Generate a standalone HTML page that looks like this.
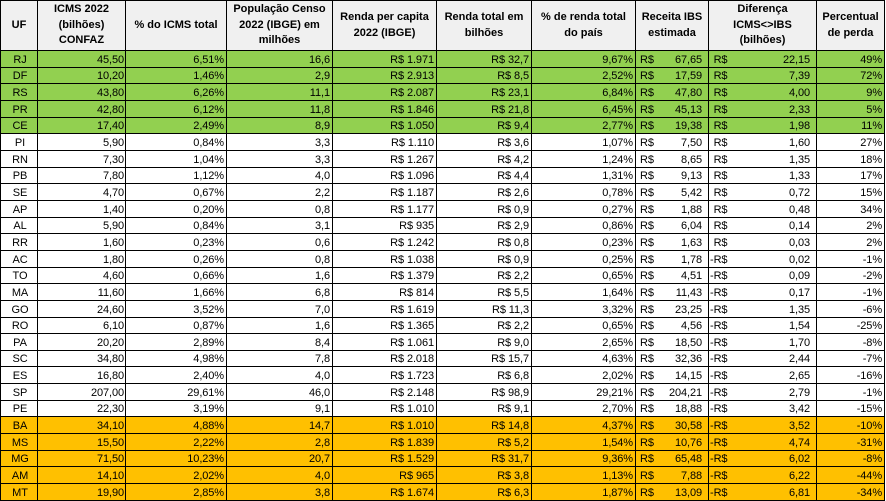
<!DOCTYPE html>
<html>
<head>
<meta charset="utf-8">
<style>
html,body{margin:0;padding:0;background:#fff;width:886px;height:501px;overflow:hidden;}
.t{position:absolute;left:0;top:0;display:grid;background:#000;padding:1px;gap:1px;
grid-template-columns:36px 87px 100px 105px 103px 94px 103px 72px 107px 67px;
grid-template-rows:49px repeat(27,15.667px);
font-family:"Liberation Sans",Arial,sans-serif;font-size:11px;color:#000;letter-spacing:-0.1px;}
.r{display:contents;}
.t div.r>span{background:#fff;display:flex;align-items:flex-end;justify-content:flex-end;line-height:13px;padding-right:2px;white-space:nowrap;overflow:hidden;}
.t div.r>span:first-child{justify-content:center;padding-right:0;padding-left:2px;}
.t div.r>span:nth-child(2){padding-right:1px;}
.t div.r>span:nth-child(8){justify-content:space-between;padding-left:4px;padding-right:6px;}
.t div.r>span:nth-child(9){justify-content:space-between;padding-left:1px;padding-right:6px;}
.t div.g>span{background:#92d050;}
.t div.o>span{background:#ffc000;}
.t div.h>span{background:#f0f0f0;font-weight:bold;justify-content:center;align-items:center;text-align:center;line-height:15.5px;padding:0;letter-spacing:0;}
.t div.h>span:first-child{padding:0;}
.t div.h>span:nth-child(n){padding:0;justify-content:center;}
.hd{visibility:hidden;}
</style>
</head>
<body>
<div class="t">
<div class="r h"><span>UF</span><span>ICMS 2022<br>(bilhões)<br>CONFAZ</span><span>% do ICMS total</span><span>População Censo<br>2022 (IBGE) em<br>milhões</span><span>Renda per capita<br>2022 (IBGE)</span><span>Renda total em<br>bilhões</span><span>% de renda total<br>do país</span><span>Receita IBS<br>estimada</span><span>Diferença<br>ICMS&lt;&gt;IBS<br>(bilhões)</span><span>Percentual<br>de perda</span></div>
<div class="r g"><span>RJ</span><span>45,50</span><span>6,51%</span><span>16,6</span><span>R$ 1.971</span><span>R$ 32,7</span><span>9,67%</span><span><b style="font-weight:normal">R$</b><b style="font-weight:normal">67,65</b></span><span><b style="font-weight:normal"><i class="hd">-</i>R$</b><b style="font-weight:normal">22,15</b></span><span>49%</span></div>
<div class="r g"><span>DF</span><span>10,20</span><span>1,46%</span><span>2,9</span><span>R$ 2.913</span><span>R$ 8,5</span><span>2,52%</span><span><b style="font-weight:normal">R$</b><b style="font-weight:normal">17,59</b></span><span><b style="font-weight:normal"><i class="hd">-</i>R$</b><b style="font-weight:normal">7,39</b></span><span>72%</span></div>
<div class="r g"><span>RS</span><span>43,80</span><span>6,26%</span><span>11,1</span><span>R$ 2.087</span><span>R$ 23,1</span><span>6,84%</span><span><b style="font-weight:normal">R$</b><b style="font-weight:normal">47,80</b></span><span><b style="font-weight:normal"><i class="hd">-</i>R$</b><b style="font-weight:normal">4,00</b></span><span>9%</span></div>
<div class="r g"><span>PR</span><span>42,80</span><span>6,12%</span><span>11,8</span><span>R$ 1.846</span><span>R$ 21,8</span><span>6,45%</span><span><b style="font-weight:normal">R$</b><b style="font-weight:normal">45,13</b></span><span><b style="font-weight:normal"><i class="hd">-</i>R$</b><b style="font-weight:normal">2,33</b></span><span>5%</span></div>
<div class="r g"><span>CE</span><span>17,40</span><span>2,49%</span><span>8,9</span><span>R$ 1.050</span><span>R$ 9,4</span><span>2,77%</span><span><b style="font-weight:normal">R$</b><b style="font-weight:normal">19,38</b></span><span><b style="font-weight:normal"><i class="hd">-</i>R$</b><b style="font-weight:normal">1,98</b></span><span>11%</span></div>
<div class="r"><span>PI</span><span>5,90</span><span>0,84%</span><span>3,3</span><span>R$ 1.110</span><span>R$ 3,6</span><span>1,07%</span><span><b style="font-weight:normal">R$</b><b style="font-weight:normal">7,50</b></span><span><b style="font-weight:normal"><i class="hd">-</i>R$</b><b style="font-weight:normal">1,60</b></span><span>27%</span></div>
<div class="r"><span>RN</span><span>7,30</span><span>1,04%</span><span>3,3</span><span>R$ 1.267</span><span>R$ 4,2</span><span>1,24%</span><span><b style="font-weight:normal">R$</b><b style="font-weight:normal">8,65</b></span><span><b style="font-weight:normal"><i class="hd">-</i>R$</b><b style="font-weight:normal">1,35</b></span><span>18%</span></div>
<div class="r"><span>PB</span><span>7,80</span><span>1,12%</span><span>4,0</span><span>R$ 1.096</span><span>R$ 4,4</span><span>1,31%</span><span><b style="font-weight:normal">R$</b><b style="font-weight:normal">9,13</b></span><span><b style="font-weight:normal"><i class="hd">-</i>R$</b><b style="font-weight:normal">1,33</b></span><span>17%</span></div>
<div class="r"><span>SE</span><span>4,70</span><span>0,67%</span><span>2,2</span><span>R$ 1.187</span><span>R$ 2,6</span><span>0,78%</span><span><b style="font-weight:normal">R$</b><b style="font-weight:normal">5,42</b></span><span><b style="font-weight:normal"><i class="hd">-</i>R$</b><b style="font-weight:normal">0,72</b></span><span>15%</span></div>
<div class="r"><span>AP</span><span>1,40</span><span>0,20%</span><span>0,8</span><span>R$ 1.177</span><span>R$ 0,9</span><span>0,27%</span><span><b style="font-weight:normal">R$</b><b style="font-weight:normal">1,88</b></span><span><b style="font-weight:normal"><i class="hd">-</i>R$</b><b style="font-weight:normal">0,48</b></span><span>34%</span></div>
<div class="r"><span>AL</span><span>5,90</span><span>0,84%</span><span>3,1</span><span>R$ 935</span><span>R$ 2,9</span><span>0,86%</span><span><b style="font-weight:normal">R$</b><b style="font-weight:normal">6,04</b></span><span><b style="font-weight:normal"><i class="hd">-</i>R$</b><b style="font-weight:normal">0,14</b></span><span>2%</span></div>
<div class="r"><span>RR</span><span>1,60</span><span>0,23%</span><span>0,6</span><span>R$ 1.242</span><span>R$ 0,8</span><span>0,23%</span><span><b style="font-weight:normal">R$</b><b style="font-weight:normal">1,63</b></span><span><b style="font-weight:normal"><i class="hd">-</i>R$</b><b style="font-weight:normal">0,03</b></span><span>2%</span></div>
<div class="r"><span>AC</span><span>1,80</span><span>0,26%</span><span>0,8</span><span>R$ 1.038</span><span>R$ 0,9</span><span>0,25%</span><span><b style="font-weight:normal">R$</b><b style="font-weight:normal">1,78</b></span><span><b style="font-weight:normal">-R$</b><b style="font-weight:normal">0,02</b></span><span>-1%</span></div>
<div class="r"><span>TO</span><span>4,60</span><span>0,66%</span><span>1,6</span><span>R$ 1.379</span><span>R$ 2,2</span><span>0,65%</span><span><b style="font-weight:normal">R$</b><b style="font-weight:normal">4,51</b></span><span><b style="font-weight:normal">-R$</b><b style="font-weight:normal">0,09</b></span><span>-2%</span></div>
<div class="r"><span>MA</span><span>11,60</span><span>1,66%</span><span>6,8</span><span>R$ 814</span><span>R$ 5,5</span><span>1,64%</span><span><b style="font-weight:normal">R$</b><b style="font-weight:normal">11,43</b></span><span><b style="font-weight:normal">-R$</b><b style="font-weight:normal">0,17</b></span><span>-1%</span></div>
<div class="r"><span>GO</span><span>24,60</span><span>3,52%</span><span>7,0</span><span>R$ 1.619</span><span>R$ 11,3</span><span>3,32%</span><span><b style="font-weight:normal">R$</b><b style="font-weight:normal">23,25</b></span><span><b style="font-weight:normal">-R$</b><b style="font-weight:normal">1,35</b></span><span>-6%</span></div>
<div class="r"><span>RO</span><span>6,10</span><span>0,87%</span><span>1,6</span><span>R$ 1.365</span><span>R$ 2,2</span><span>0,65%</span><span><b style="font-weight:normal">R$</b><b style="font-weight:normal">4,56</b></span><span><b style="font-weight:normal">-R$</b><b style="font-weight:normal">1,54</b></span><span>-25%</span></div>
<div class="r"><span>PA</span><span>20,20</span><span>2,89%</span><span>8,4</span><span>R$ 1.061</span><span>R$ 9,0</span><span>2,65%</span><span><b style="font-weight:normal">R$</b><b style="font-weight:normal">18,50</b></span><span><b style="font-weight:normal">-R$</b><b style="font-weight:normal">1,70</b></span><span>-8%</span></div>
<div class="r"><span>SC</span><span>34,80</span><span>4,98%</span><span>7,8</span><span>R$ 2.018</span><span>R$ 15,7</span><span>4,63%</span><span><b style="font-weight:normal">R$</b><b style="font-weight:normal">32,36</b></span><span><b style="font-weight:normal">-R$</b><b style="font-weight:normal">2,44</b></span><span>-7%</span></div>
<div class="r"><span>ES</span><span>16,80</span><span>2,40%</span><span>4,0</span><span>R$ 1.723</span><span>R$ 6,8</span><span>2,02%</span><span><b style="font-weight:normal">R$</b><b style="font-weight:normal">14,15</b></span><span><b style="font-weight:normal">-R$</b><b style="font-weight:normal">2,65</b></span><span>-16%</span></div>
<div class="r"><span>SP</span><span>207,00</span><span>29,61%</span><span>46,0</span><span>R$ 2.148</span><span>R$ 98,9</span><span>29,21%</span><span><b style="font-weight:normal">R$</b><b style="font-weight:normal">204,21</b></span><span><b style="font-weight:normal">-R$</b><b style="font-weight:normal">2,79</b></span><span>-1%</span></div>
<div class="r"><span>PE</span><span>22,30</span><span>3,19%</span><span>9,1</span><span>R$ 1.010</span><span>R$ 9,1</span><span>2,70%</span><span><b style="font-weight:normal">R$</b><b style="font-weight:normal">18,88</b></span><span><b style="font-weight:normal">-R$</b><b style="font-weight:normal">3,42</b></span><span>-15%</span></div>
<div class="r o"><span>BA</span><span>34,10</span><span>4,88%</span><span>14,7</span><span>R$ 1.010</span><span>R$ 14,8</span><span>4,37%</span><span><b style="font-weight:normal">R$</b><b style="font-weight:normal">30,58</b></span><span><b style="font-weight:normal">-R$</b><b style="font-weight:normal">3,52</b></span><span>-10%</span></div>
<div class="r o"><span>MS</span><span>15,50</span><span>2,22%</span><span>2,8</span><span>R$ 1.839</span><span>R$ 5,2</span><span>1,54%</span><span><b style="font-weight:normal">R$</b><b style="font-weight:normal">10,76</b></span><span><b style="font-weight:normal">-R$</b><b style="font-weight:normal">4,74</b></span><span>-31%</span></div>
<div class="r o"><span>MG</span><span>71,50</span><span>10,23%</span><span>20,7</span><span>R$ 1.529</span><span>R$ 31,7</span><span>9,36%</span><span><b style="font-weight:normal">R$</b><b style="font-weight:normal">65,48</b></span><span><b style="font-weight:normal">-R$</b><b style="font-weight:normal">6,02</b></span><span>-8%</span></div>
<div class="r o"><span>AM</span><span>14,10</span><span>2,02%</span><span>4,0</span><span>R$ 965</span><span>R$ 3,8</span><span>1,13%</span><span><b style="font-weight:normal">R$</b><b style="font-weight:normal">7,88</b></span><span><b style="font-weight:normal">-R$</b><b style="font-weight:normal">6,22</b></span><span>-44%</span></div>
<div class="r o"><span>MT</span><span>19,90</span><span>2,85%</span><span>3,8</span><span>R$ 1.674</span><span>R$ 6,3</span><span>1,87%</span><span><b style="font-weight:normal">R$</b><b style="font-weight:normal">13,09</b></span><span><b style="font-weight:normal">-R$</b><b style="font-weight:normal">6,81</b></span><span>-34%</span></div>
</div>
</body>
</html>
